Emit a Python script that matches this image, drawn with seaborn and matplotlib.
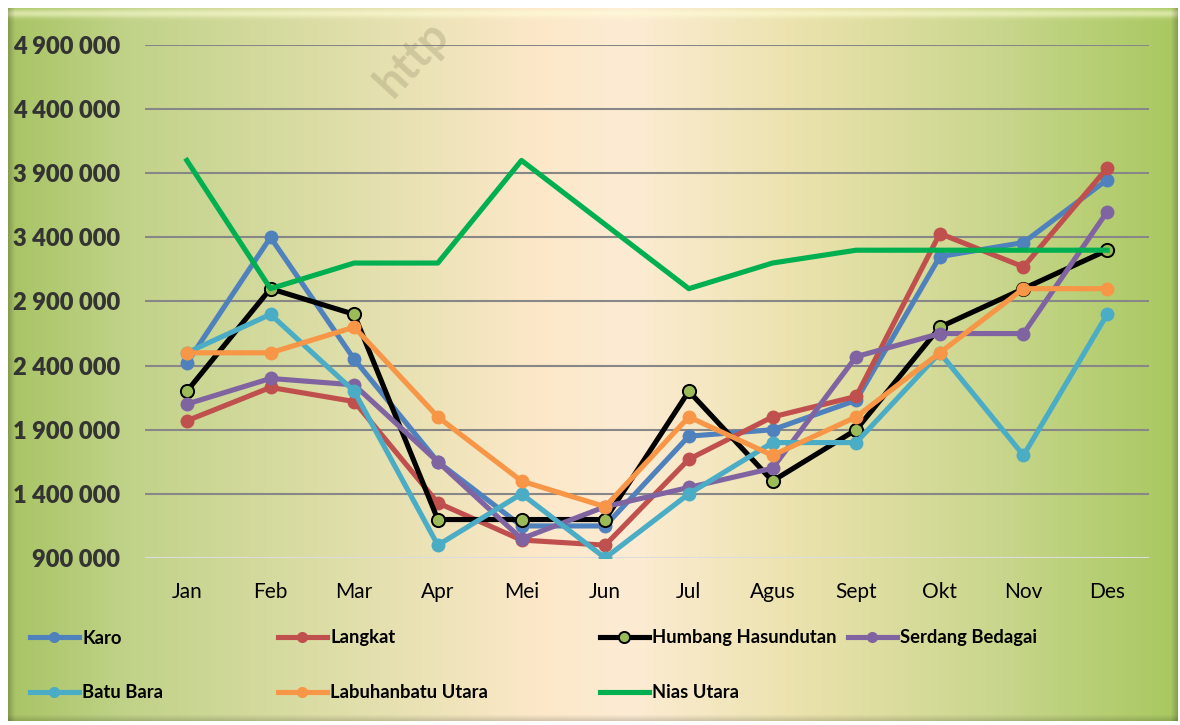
import numpy as np
import pandas as pd
import matplotlib
matplotlib.use("Agg")
import matplotlib.pyplot as plt
import seaborn as sns
from matplotlib.lines import Line2D
from matplotlib.ticker import FuncFormatter

# ---------------- data ----------------
months = ["Jan", "Feb", "Mar", "Apr", "Mei", "Jun", "Jul", "Agus", "Sept", "Okt", "Nov", "Des"]
karo = [2420000, 3400000, 2450000, 1650000, 1150000, 1150000, 1850000, 1900000, 2130000, 3250000, 3360000, 3850000]
langkat = [1970000, 2230000, 2120000, 1330000, 1040000, 1000000, 1670000, 2000000, 2160000, 3430000, 3170000, 3940000]
humbang = [2200000, 3000000, 2800000, 1200000, 1200000, 1200000, 2200000, 1500000, 1900000, 2700000, 3000000, 3300000]
serdang = [2100000, 2300000, 2250000, 1650000, 1050000, 1300000, 1450000, 1600000, 2470000, 2650000, 2650000, 3600000]
batubara = [2500000, 2800000, 2200000, 1000000, 1400000, 900000, 1400000, 1800000, 1800000, 2500000, 1700000, 2800000]
labuhan = [2500000, 2500000, 2700000, 2000000, 1500000, 1300000, 2000000, 1700000, 2000000, 2500000, 3000000, 3000000]
nias = [4000000, 3000000, 3200000, 3200000, 4000000, 3500000, 3000000, 3200000, 3300000, 3300000, 3300000, 3300000]
series_names = ["Karo", "Langkat", "Humbang Hasundutan", "Serdang Bedagai",
                "Batu Bara", "Labuhanbatu Utara", "Nias Utara"]
y_ticks = [900000, 1400000, 1900000, 2400000, 2900000, 3400000, 3900000, 4400000, 4900000]

series_values = [karo, langkat, humbang, serdang, batubara, labuhan, nias]
line_colors = ["#4f81bd", "#c0504d", "#000000", "#8064a2", "#4bacc6", "#f79646", "#00b050"]
marker_faces = ["#4f81bd", "#c0504d", "#9bbb59", "#8064a2", "#4bacc6", "#f79646", None]
marker_edges = ["#4f81bd", "#c0504d", "#000000", "#8064a2", "#4bacc6", "#f79646", None]

df = pd.DataFrame({"month": months * len(series_names),
                   "value": [v for vals in series_values for v in vals],
                   "series": [n for n in series_names for _ in months]})

plt.rcParams["font.family"] = ["Lato", "DejaVu Sans"]

W, H = 1180, 725
fig = plt.figure(figsize=(W / 100, H / 100), dpi=100, facecolor="white")

# ---------------- background panel (gradient with bevel) ----------------
px0, py0, px1, py1 = 8, 8, 1178, 721
pw, ph = px1 - px0, py1 - py0
stops_x = np.array([0.0, 0.10, 0.28, 0.45, 0.53, 0.68, 0.85, 1.0])
stops_c = np.array([[168, 196, 100], [192, 210, 136], [222, 222, 168], [252, 232, 200],
                    [253, 236, 212], [234, 226, 172], [200, 214, 140], [168, 200, 96]]) / 255.0
xs = np.linspace(0, 1, pw)
row = np.stack([np.interp(xs, stops_x, stops_c[:, k]) for k in range(3)], axis=1)
img = np.tile(row[None, :, :], (ph, 1, 1))
for r in range(14):
    a = 0.55 * np.exp(-((r - 5) / 4.0) ** 2)
    img[r] = img[r] * (1 - a) + np.array([1.0, 1.0, 0.85]) * a
for c in range(7):
    f = 0.80 + 0.03 * c
    img[:, c] *= f
    img[:, pw - 1 - c] *= f
for r in range(6):
    img[ph - 1 - r] *= 0.85 + 0.025 * r
bg = fig.add_axes([px0 / W, 1 - py1 / H, pw / W, ph / H], zorder=-5)
bg.imshow(np.clip(img, 0, 1), aspect="auto", interpolation="bilinear")
bg.set_axis_off()

# ---------------- main axes ----------------
ax = fig.add_axes([145 / W, 1 - 558 / H, (1149 - 145) / W, (558 - 45) / H])
ax.set_facecolor("none")

for name, lc, mf, me in zip(series_names, line_colors, marker_faces, marker_edges):
    sub = df[df["series"] == name]
    kw = dict(x="month", y="value", data=sub, ax=ax, color=lc, linewidth=3.7, sort=False,
              legend=False)
    if mf is not None:
        ew = 1.4 if name == "Humbang Hasundutan" else 0
        ms = 9.5 if name == "Humbang Hasundutan" else 10
        kw.update(marker="o", markersize=ms, markerfacecolor=mf, markeredgecolor=me,
                  markeredgewidth=ew)
    sns.lineplot(**kw)

ax.set_xlim(-0.5, len(months) - 0.5)
ax.set_ylim(y_ticks[0], y_ticks[-1])
ax.set_yticks(y_ticks)
ax.yaxis.set_major_formatter(FuncFormatter(lambda v, p: f"{int(v):,}".replace(",", " ")))
ax.set_xlabel("")
ax.set_ylabel("")
ax.grid(axis="y", color="#878787", linewidth=1.5)
ax.grid(axis="x", visible=False)
ax.set_axisbelow(True)
ax.get_ygridlines()[0].set_color("#dcdcdc")
for s in ax.spines.values():
    s.set_visible(False)
ax.tick_params(axis="y", length=0, pad=18, labelsize=17, labelcolor="#333333")
ax.tick_params(axis="x", length=0, pad=17, labelsize=15, labelcolor="#000000")
for t in ax.get_yticklabels():
    t.set_fontweight("heavy")

# ---------------- legend (entries placed in Excel layout) ----------------
legend_pos = [(30, 638), (278, 638), (600, 638), (848, 638),
              (30, 693), (278, 693), (600, 693)]
for name, lc, mf, me, (lx, ly) in zip(series_names, line_colors, marker_faces,
                                         marker_edges, legend_pos):
    if mf is not None:
        ew = 1.4 if name == "Humbang Hasundutan" else 0
        h = Line2D([0], [0], color=lc, linewidth=3.7, marker="o", markersize=8,
                   markerfacecolor=mf, markeredgecolor=me, markeredgewidth=ew)
    else:
        h = Line2D([0], [0], color=lc, linewidth=3.7)
    fig.legend(handles=[h], labels=[name], loc="center left",
               bbox_to_anchor=(lx / W, 1 - ly / H), frameon=False,
               handlelength=2.65, handletextpad=0.2, borderpad=0, borderaxespad=0,
               prop={"size": 13.2, "weight": "bold"})

# ---------------- watermark ----------------
fig.text(392 / W, 1 - 100 / H, "http", rotation=47, rotation_mode="anchor",
         ha="left", va="baseline", fontsize=33, fontweight="bold",
         color="#8a8060", alpha=0.28)

fig.savefig("out.png", dpi=100, facecolor="white")
